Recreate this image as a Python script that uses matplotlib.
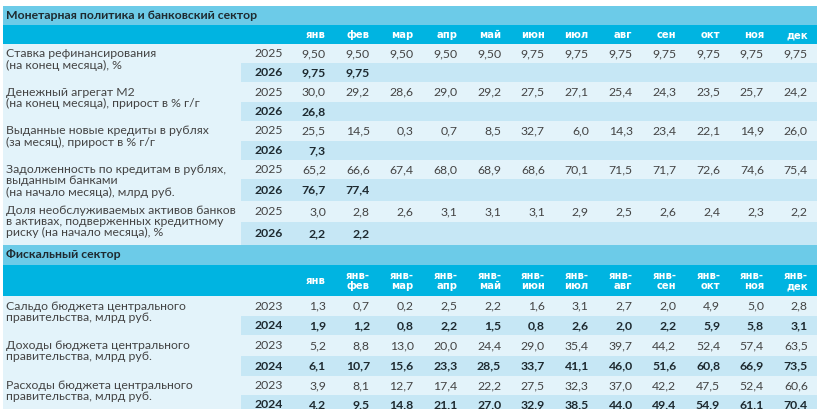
import matplotlib.pyplot as plt
from matplotlib.patches import Rectangle

# data
months = ['янв', 'фев', 'мар', 'апр', 'май', 'июн', 'июл', 'авг', 'сен', 'окт', 'ноя', 'дек']
fiscal_months = ['янв', 'янв-\nфев', 'янв-\nмар', 'янв-\nапр', 'янв-\nмай', 'янв-\nиюн',
                 'янв-\nиюл', 'янв-\nавг', 'янв-\nсен', 'янв-\nокт', 'янв-\nноя', 'янв-\nдек']

title_monetary = 'Монетарная политика и банковский сектор'
title_fiscal = 'Фискальный сектор'
years_monetary = ['2025', '2026']
years_fiscal = ['2023', '2024']

label_rate = ['Ставка рефинансирования', '(на конец месяца), %']
rate_2025 = [9.50, 9.50, 9.50, 9.50, 9.50, 9.75, 9.75, 9.75, 9.75, 9.75, 9.75, 9.75]
rate_2026 = [9.75, 9.75]

label_m2 = ['Денежный агрегат М2', '(на конец месяца), прирост в % г/г']
m2_2025 = [30.0, 29.2, 28.6, 29.0, 29.2, 27.5, 27.1, 25.4, 24.3, 23.5, 25.7, 24.2]
m2_2026 = [26.8]

label_loans = ['Выданные новые кредиты в рублях', '(за месяц), прирост в % г/г']
loans_2025 = [25.5, 14.5, 0.3, 0.7, 8.5, 32.7, 6.0, 14.3, 23.4, 22.1, 14.9, 26.0]
loans_2026 = [7.3]

label_debt = ['Задолженность по кредитам в рублях,', 'выданным банками', '(на начало месяца), млрд руб.']
debt_2025 = [65.2, 66.6, 67.4, 68.0, 68.9, 68.6, 70.1, 71.5, 71.7, 72.6, 74.6, 75.4]
debt_2026 = [76.7, 77.4]

label_npl = ['Доля необслуживаемых активов банков', 'в активах, подверженных кредитному',
             'риску (на начало месяца), %']
npl_2025 = [3.0, 2.8, 2.6, 3.1, 3.1, 3.1, 2.9, 2.5, 2.6, 2.4, 2.3, 2.2]
npl_2026 = [2.2, 2.2]

label_balance = ['Сальдо бюджета центрального', 'правительства, млрд руб.']
balance_2023 = [1.3, 0.7, 0.2, 2.5, 2.2, 1.6, 3.1, 2.7, 2.0, 4.9, 5.0, 2.8]
balance_2024 = [1.9, 1.2, 0.8, 2.2, 1.5, 0.8, 2.6, 2.0, 2.2, 5.9, 5.8, 3.1]

label_revenue = ['Доходы бюджета центрального', 'правительства, млрд руб.']
revenue_2023 = [5.2, 8.8, 13.0, 20.0, 24.4, 29.0, 35.4, 39.7, 44.2, 52.4, 57.4, 63.5]
revenue_2024 = [6.1, 10.7, 15.6, 23.3, 28.5, 33.7, 41.1, 46.0, 51.6, 60.8, 66.9, 73.5]

label_spend = ['Расходы бюджета центрального', 'правительства, млрд руб.']
spend_2023 = [3.9, 8.1, 12.7, 17.4, 22.2, 27.5, 32.3, 37.0, 42.2, 47.5, 52.4, 60.6]
spend_2024 = [4.2, 9.5, 14.8, 21.1, 27.0, 32.9, 38.5, 44.0, 49.4, 54.9, 61.1, 70.4]

# colours / layout
c_sect = '#6ccbe8'
c_head = '#00b4e1'
c_light = '#e3f3fa'
c_band = '#c6e7f5'
c_text = '#444444'
c_bold = '#1e2a30'

plt.rcParams['font.family'] = ['Lato', 'DejaVu Sans']

W, H = 820, 409
fig = plt.figure(figsize=(W / 100, H / 100), dpi=100)
ax = fig.add_axes([0, 0, 1, 1])
ax.set_xlim(0, W)
ax.set_ylim(H, 0)
ax.axis('off')

x_left, x_right = 3, 817
x_band = 241
x_year = 283
col_right = [326 + i * 43.8 for i in range(12)]
fs = 8.8


def fmt(v, nd):
    return f'{v:.{nd}f}'.replace('.', ',')


def rect(y0, y1, color, x0=x_left):
    ax.add_patch(Rectangle((x0, y0), x_right - x0, y1 - y0, color=color, lw=0))


def section(y0, y1, y2, title, heads):
    rect(y0, y1, c_sect)
    ax.text(6, (y0 + y1) / 2, title, fontsize=8.8, fontweight='bold', color=c_bold,
            va='center')
    rect(y1, y2, c_head)
    for x, h in zip(col_right, heads):
        ax.text(x, (y1 + y2) / 2 + 0.5, h, fontsize=7.2, fontweight='bold', color='white',
                ha='right', va='center', multialignment='right', linespacing=1.05,
                family='DejaVu Sans')


def block(rows, label, years, v1, v2, nd, lstep, lshift=0):
    (a0, a1), (b0, b1) = rows
    rect(a0, b1, c_light)
    rect(b0, b1, c_band, x0=x_band)
    ya, yb = (a0 + a1) / 2, (b0 + b1) / 2
    for i, line in enumerate(label):
        ax.text(6, ya + lshift + i * lstep, line, fontsize=fs, color=c_text, va='center')
    ax.text(x_year, ya, years[0], fontsize=fs, color=c_text, ha='right', va='center')
    ax.text(x_year, yb, years[1], fontsize=fs, color=c_bold, ha='right', va='center',
            fontweight='bold')
    for x, v in zip(col_right, v1):
        ax.text(x, ya, fmt(v, nd), fontsize=fs, color=c_text, ha='right', va='center')
    for x, v in zip(col_right, v2):
        ax.text(x, yb, fmt(v, nd), fontsize=fs, color=c_bold, ha='right', va='center',
                fontweight='bold')


section(6, 25, 44, title_monetary, months)
block([(44, 63), (63, 82)], label_rate, years_monetary, rate_2025, rate_2026, 2, 11.5)
block([(82, 102), (102, 121)], label_m2, years_monetary, m2_2025, m2_2026, 1, 11.5)
block([(121, 141), (141, 160)], label_loans, years_monetary, loans_2025, loans_2026, 1, 11.5)
block([(160, 179), (179, 201)], label_debt, years_monetary, debt_2025, debt_2026, 1, 11.5)
block([(201, 222), (222, 245)], label_npl, years_monetary, npl_2025, npl_2026, 1, 11.2, -1)

section(245, 265, 296, title_fiscal, fiscal_months)
block([(296, 316), (316, 335)], label_balance, years_fiscal, balance_2023, balance_2024, 1, 11.5)
block([(335, 356), (356, 376)], label_revenue, years_fiscal, revenue_2023, revenue_2024, 1, 11.5)
block([(376, 395), (395, 414)], label_spend, years_fiscal, spend_2023, spend_2024, 1, 11.5)

fig.savefig('out.png', dpi=100)
